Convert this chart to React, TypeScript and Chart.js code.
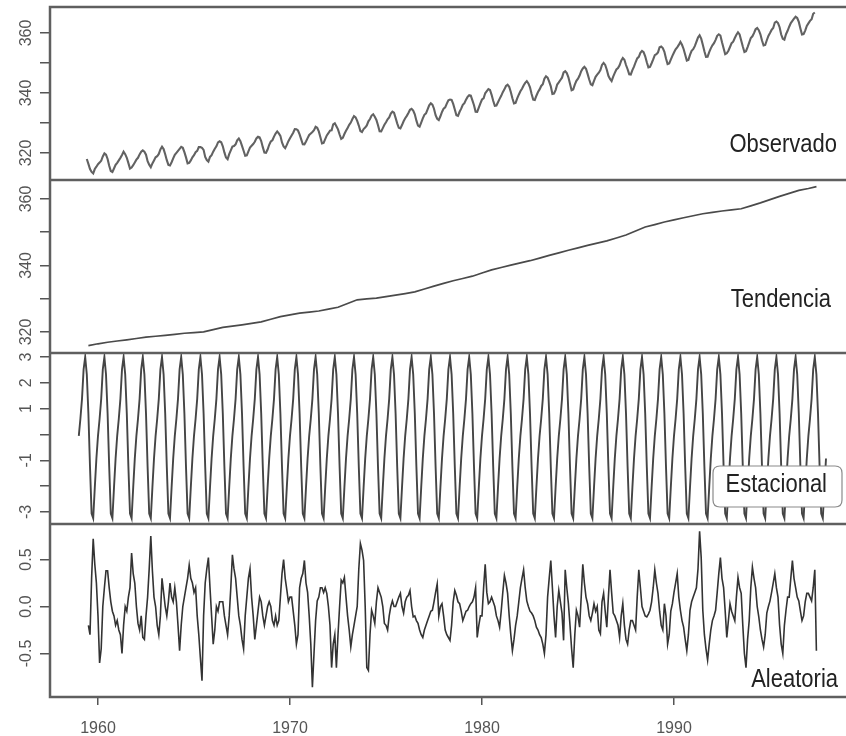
import React, { useEffect, useRef } from "react";
import { Chart, registerables } from "chart.js";

Chart.register(...registerables);

// ---------- data ----------
const xTickYears = [1960, 1970, 1980, 1990];

// Observado: monthly, Jun 1959 .. May 1997
const observedStart = 1959 + 5 / 12;
const observed = [
  318.0, 316.39, 314.65, 313.68, 313.18, 314.66, 315.43,
  316.27, 316.81, 317.42, 318.87, 319.87, 319.43, 318.01, 315.74, 314.0, 313.68, 314.84, 316.03,
  316.73, 317.54, 318.38, 319.31, 320.42, 319.61, 318.42, 316.63, 314.83, 315.16, 315.94, 316.85,
  317.78, 318.4, 319.53, 320.42, 320.85, 320.45, 319.45, 317.25, 316.11, 315.27, 316.53, 317.53,
  318.58, 318.92, 319.7, 321.22, 322.08, 321.31, 319.58, 317.61, 316.05, 315.83, 316.91, 318.2,
  319.41, 320.07, 320.74, 321.4, 322.06, 321.73, 320.27, 318.54, 316.54, 316.71, 317.53, 318.55,
  319.27, 320.28, 320.73, 321.97, 322.0, 321.71, 321.05, 318.71, 317.66, 317.14, 318.7, 319.25,
  320.46, 321.43, 322.23, 323.54, 323.91, 323.59, 322.24, 320.2, 318.48, 317.94, 319.63, 320.87,
  322.17, 322.34, 322.88, 324.25, 324.83, 323.93, 322.38, 320.76, 319.1, 319.24, 320.56, 321.8,
  322.4, 322.99, 323.73, 324.86, 325.4, 325.2, 323.98, 321.95, 320.18, 320.09, 321.16, 322.74,
  323.83, 324.26, 325.47, 326.5, 327.21, 326.54, 325.72, 323.5, 322.22, 321.62, 322.69, 323.95,
  324.89, 325.82, 326.77, 327.97, 327.91, 327.5, 326.18, 324.53, 322.93, 322.9, 323.85, 324.96,
  326.01, 326.51, 327.01, 327.62, 328.76, 328.4, 327.2, 325.27, 323.2, 323.4, 324.63, 325.85,
  326.6, 327.47, 327.58, 329.56, 329.9, 328.92, 327.88, 326.16, 324.68, 325.04, 326.34, 327.39,
  328.37, 329.4, 330.14, 331.33, 332.31, 331.9, 330.7, 329.15, 327.35, 327.02, 327.99, 328.48,
  329.18, 330.55, 331.32, 332.48, 332.92, 332.08, 331.01, 329.23, 327.27, 327.21, 328.29, 329.41,
  330.23, 331.25, 331.87, 333.14, 333.8, 333.43, 331.73, 329.9, 328.4, 328.17, 329.32, 330.59,
  331.58, 332.39, 333.33, 334.41, 334.71, 334.17, 332.89, 330.77, 329.14, 328.78, 330.14, 331.52,
  332.75, 333.24, 334.53, 335.9, 336.57, 336.1, 334.76, 332.59, 331.42, 330.98, 332.24, 333.68,
  334.8, 335.22, 336.47, 337.59, 337.84, 337.72, 336.37, 334.51, 332.6, 332.38, 333.75, 334.78,
  336.05, 336.59, 337.79, 338.71, 339.3, 339.12, 337.56, 335.92, 333.75, 333.7, 335.12, 336.56,
  337.84, 338.19, 339.91, 340.6, 341.29, 341.0, 339.39, 337.43, 335.72, 335.84, 336.93, 338.04,
  339.06, 340.3, 341.21, 342.33, 342.74, 342.08, 340.32, 338.26, 336.52, 336.68, 338.19, 339.44,
  340.57, 341.44, 342.53, 343.39, 343.96, 343.18, 341.88, 339.65, 337.81, 337.69, 339.09, 340.32,
  341.2, 342.35, 342.93, 344.77, 345.58, 345.14, 343.81, 342.21, 339.69, 339.82, 340.98, 342.82,
  343.52, 344.33, 345.11, 346.88, 347.25, 346.62, 345.22, 343.11, 340.9, 341.18, 342.8, 344.04,
  344.79, 345.82, 347.25, 348.17, 348.74, 348.07, 346.38, 344.51, 342.92, 342.62, 344.06, 345.38,
  346.11, 346.78, 347.68, 349.37, 350.03, 349.37, 347.76, 345.73, 344.68, 343.99, 345.48, 346.72,
  347.84, 348.29, 349.23, 350.8, 351.66, 351.07, 349.33, 347.92, 346.27, 346.18, 347.64, 348.78,
  350.25, 351.54, 352.05, 353.41, 354.04, 353.62, 352.22, 350.27, 348.55, 348.72, 349.91, 351.18,
  352.6, 352.92, 353.53, 355.26, 355.52, 354.97, 353.75, 351.52, 349.64, 349.83, 351.14, 352.37,
  353.5, 354.55, 355.23, 356.04, 357.0, 356.07, 354.67, 352.76, 350.82, 351.04, 352.69, 354.07,
  354.59, 355.63, 357.03, 358.48, 359.22, 358.12, 356.06, 353.92, 352.05, 352.11, 353.64, 354.89,
  355.88, 356.63, 357.72, 359.07, 359.58, 359.17, 356.94, 354.92, 352.94, 353.23, 354.09, 355.33,
  356.63, 357.1, 358.32, 359.41, 360.23, 359.55, 357.53, 355.48, 353.67, 353.95, 355.3, 356.78,
  358.34, 358.89, 359.95, 361.25, 361.67, 360.94, 359.55, 357.49, 355.84, 356.0, 357.59, 359.05,
  359.98, 361.03, 361.66, 363.48, 363.82, 363.3, 361.94, 359.5, 358.11, 357.8, 359.61, 360.74,
  362.09, 363.29, 364.06, 364.76, 365.45, 365.01, 363.7, 361.54, 359.51, 359.65, 360.8, 362.38,
  363.23, 364.06, 364.61, 366.4, 366.84,
];

// Tendencia: semi-annual readings
const trendYears = [
  1959.5, 1960, 1960.5, 1961, 1961.5, 1962, 1962.5, 1963, 1963.5, 1964, 1964.5,
  1965, 1965.5, 1966, 1966.5, 1967, 1967.5, 1968, 1968.5, 1969, 1969.5,
  1970, 1970.5, 1971, 1971.5, 1972, 1972.5, 1973, 1973.5, 1974, 1974.5,
  1975, 1975.5, 1976, 1976.5, 1977, 1977.5, 1978, 1978.5, 1979, 1979.5,
  1980, 1980.5, 1981, 1981.5, 1982, 1982.5, 1983, 1983.5, 1984, 1984.5,
  1985, 1985.5, 1986, 1986.5, 1987, 1987.5, 1988, 1988.5, 1989, 1989.5,
  1990, 1990.5, 1991, 1991.5, 1992, 1992.5, 1993, 1993.5, 1994, 1994.5,
  1995, 1995.5, 1996, 1996.5, 1997, 1997.42,
];
const trend = [
  315.9, 316.45, 316.91, 317.28, 317.64, 318.05, 318.45, 318.72, 318.99, 319.3, 319.62,
  319.83, 320.04, 320.71, 321.38, 321.77, 322.16, 322.6, 323.04, 323.83, 324.62,
  325.15, 325.68, 326.0, 326.32, 326.88, 327.45, 328.56, 329.68, 329.93, 330.18,
  330.63, 331.08, 331.56, 332.05, 332.91, 333.78, 334.6, 335.41, 336.1, 336.78,
  337.73, 338.68, 339.39, 340.1, 340.77, 341.44, 342.23, 343.03, 343.8, 344.58,
  345.31, 346.04, 346.71, 347.39, 348.27, 349.16, 350.36, 351.56, 352.31, 353.07,
  353.71, 354.35, 354.96, 355.57, 355.97, 356.38, 356.72, 357.07, 357.94, 358.82,
  359.81, 360.8, 361.69, 362.59, 363.15, 363.71,
];

// Estacional: the 12-month seasonal figure, repeated for every year Jan 1959 .. Dec 1997
const seasonalStart = 1959;
const seasonalFigure = [-0.05, 0.61, 1.38, 2.52, 3.0, 2.33, 0.81, -1.25, -3.06, -3.24, -2.05, -0.93];
const seasonalYearCount = 39;

// Aleatoria: monthly, Jul 1959 .. Jun 1997
const randomStart = 1959.5;
const random = [
  -0.2, -0.3, 0.3, 0.72, 0.45, 0.25, -0.1, -0.6, -0.45, 0.0, 0.2, 0.38,
  0.38, 0.2, 0.05, -0.05, -0.1, -0.2, -0.15, -0.25, -0.3, -0.5, -0.2, 0.0,
  -0.05, 0.1, 0.2, 0.57, 0.35, 0.25, 0.0, -0.18, -0.25, -0.1, -0.33, -0.35,
  -0.1, 0.1, 0.4, 0.75, 0.38, 0.1, 0.0, -0.2, -0.3, -0.1, 0.3, 0.15,
  0.0, -0.1, 0.05, 0.25, 0.1, 0.05, 0.2, 0.05, -0.2, -0.47, -0.2, 0.0,
  0.1, 0.2, 0.3, 0.44, 0.3, 0.25, 0.15, 0.2, -0.1, -0.3, -0.55, -0.79,
  -0.1, 0.25, 0.4, 0.52, 0.2, -0.1, -0.4, -0.25, 0.0, -0.05, 0.05, 0.05,
  0.05, -0.1, -0.2, -0.3, -0.1, 0.2, 0.55, 0.4, 0.3, 0.1, -0.1, -0.2,
  -0.35, -0.45, -0.1, 0.1, 0.3, 0.4, 0.1, -0.1, -0.35, -0.2, -0.05, 0.1,
  0.05, -0.1, -0.2, -0.1, 0.0, 0.05, 0.0, -0.15, -0.2, -0.1, -0.2, -0.15,
  0.1, 0.35, 0.5, 0.3, 0.18, 0.05, 0.1, 0.1, -0.05, -0.2, -0.4, -0.3,
  0.2, 0.3, 0.35, 0.49, 0.25, 0.15, -0.1, -0.4, -0.86, -0.5, -0.15, 0.06,
  0.1, 0.2, 0.2, 0.15, 0.2, 0.14, 0.0, -0.2, -0.65, -0.4, -0.3, -0.65,
  -0.3, 0.0, 0.28, 0.25, 0.31, 0.1, -0.1, -0.25, -0.43, -0.3, -0.2, -0.1,
  0.0, 0.4, 0.67, 0.6, 0.49, 0.0, -0.65, -0.68, -0.3, -0.04, -0.1, -0.18,
  0.05, 0.2, 0.15, 0.1, 0.0, -0.18, -0.2, -0.25, -0.1, 0.0, 0.06, 0.0,
  0.0, 0.05, 0.1, 0.14, 0.0, -0.07, 0.05, 0.1, 0.12, 0.17, 0.0, -0.11,
  -0.1, -0.15, -0.18, -0.25, -0.3, -0.33, -0.25, -0.2, -0.15, -0.1, -0.05, -0.04,
  0.05, 0.15, 0.24, -0.1, 0.0, 0.03, -0.1, -0.25, -0.3, -0.33, -0.36, -0.2,
  0.05, 0.17, 0.12, 0.05, 0.03, -0.05, -0.15, -0.1, -0.05, -0.04, 0.0, 0.03,
  0.05, 0.1, 0.2, -0.33, -0.2, -0.1, -0.1, 0.2, 0.45, 0.15, 0.03, 0.05,
  0.1, 0.05, 0.0, -0.1, -0.15, -0.22, -0.05, 0.15, 0.33, 0.25, 0.14, -0.1,
  -0.3, -0.47, -0.35, -0.2, -0.1, 0.05, 0.2, 0.3, 0.39, 0.2, 0.06, 0.0,
  -0.05, -0.07, -0.1, -0.15, -0.22, -0.25, -0.3, -0.33, -0.4, -0.5, -0.3, 0.1,
  0.3, 0.49, 0.2, -0.1, -0.33, 0.0, 0.17, 0.05, -0.07, -0.36, 0.39, 0.2,
  0.03, -0.2, -0.45, -0.65, -0.3, -0.04, -0.1, -0.22, 0.1, 0.45, 0.25, 0.1,
  0.03, -0.1, -0.15, -0.07, 0.03, -0.05, 0.0, -0.25, -0.29, 0.05, 0.14, -0.05,
  -0.22, 0.1, 0.39, 0.15, -0.07, -0.1, -0.15, -0.2, -0.33, -0.1, 0.03, -0.2,
  -0.35, -0.4, -0.25, -0.15, -0.15, -0.2, -0.25, 0.1, 0.39, 0.2, 0.0, -0.05,
  -0.1, -0.11, -0.08, -0.04, 0.05, 0.2, 0.39, 0.25, 0.14, -0.05, -0.2, -0.25,
  0.03, -0.1, -0.4, -0.3, -0.05, 0.03, 0.15, 0.25, 0.35, 0.1, -0.04, -0.15,
  -0.22, -0.35, -0.47, -0.3, -0.04, 0.05, 0.1, 0.15, 0.2, 0.4, 0.8, 0.52,
  -0.04, -0.3, -0.45, -0.57, -0.4, -0.25, -0.15, -0.1, -0.04, 0.15, 0.35, 0.52,
  0.3, 0.2, -0.05, -0.33, -0.15, 0.03, -0.05, -0.1, -0.15, 0.1, 0.31, 0.2,
  0.14, -0.2, -0.5, -0.65, -0.35, -0.15, 0.2, 0.42, 0.3, 0.2, 0.0, -0.11,
  -0.25, -0.35, -0.43, -0.3, -0.07, 0.0, 0.06, 0.15, 0.25, 0.35, 0.2, 0.1,
  -0.2, -0.4, -0.5, -0.2, -0.04, 0.1, 0.1, 0.3, 0.49, 0.3, 0.2, 0.1,
  0.06, -0.05, -0.15, -0.1, 0.05, 0.14, 0.14, 0.1, 0.06, 0.2, 0.39, -0.47,
];

// axis ticks
const levelTicks = [320, 330, 340, 350, 360];
const levelTickLabels = [320, 340, 360];
const seasonalTicks = [-3, -2, -1, 0, 1, 2, 3];
const seasonalTickLabels = [3, 2, 1, -1, -3];
const randomTicks = [-0.5, 0, 0.5];
const randomTickLabels = [0.5, 0, -0.5];

// ---------- helpers ----------
const monthly = (start: number, vals: number[]) => vals.map((v, i) => ({ x: start + i / 12, y: v }));
const paired = (xs: number[], ys: number[]) => xs.map((x, i) => ({ x, y: ys[i] }));
const seasonalSeries = () => {
  const vals: number[] = [];
  for (let k = 0; k < seasonalYearCount; k++) vals.push(...seasonalFigure);
  return monthly(seasonalStart, vals);
};

const CANVAS_W = 850;
const PLOT_LEFT = 50;
const X_MIN = 1957.5;
const X_MAX = 1957.5 + (CANVAS_W - PLOT_LEFT) / 19.2;
const FONT = '"Liberation Sans", Arial, Helvetica, sans-serif';
const AXIS_COLOR = "#555";

type PanelCfg = {
  id: string;
  top: number;
  height: number;
  padTop: number;
  yMin: number;
  yMax: number;
  ticks: number[];
  labels: number[];
  fmt: (v: number) => string;
  title: string;
  titleRight: number;
  titleBaseline: number;
  box?: { x: number; y: number; w: number; h: number };
  points: { x: number; y: number }[];
  color: string;
  lineWidth: number;
  showX: boolean;
};

const PANELS: PanelCfg[] = [
  {
    id: "obs", top: 0, height: 180, padTop: 7, yMin: 311, yMax: 368.67,
    ticks: levelTicks, labels: levelTickLabels, fmt: (v) => String(v),
    title: "Observado", titleRight: 837, titleBaseline: 152,
    points: monthly(observedStart, observed), color: "#626262", lineWidth: 2.1, showX: false,
  },
  {
    id: "trend", top: 180, height: 173, padTop: 0, yMin: 313.68, yMax: 365.71,
    ticks: levelTicks, labels: levelTickLabels, fmt: (v) => String(v),
    title: "Tendencia", titleRight: 831, titleBaseline: 307,
    points: paired(trendYears, trend), color: "#4a4a4a", lineWidth: 1.7, showX: false,
  },
  {
    id: "seas", top: 353, height: 171, padTop: 0, yMin: -3.465, yMax: 3.155,
    ticks: seasonalTicks, labels: seasonalTickLabels, fmt: (v) => String(v),
    title: "Estacional", titleRight: 827, titleBaseline: 492,
    box: { x: 713, y: 466, w: 129, h: 41 },
    points: seasonalSeries(), color: "#454545", lineWidth: 1.9, showX: false,
  },
  {
    id: "rand", top: 524, height: 212, padTop: 0, yMin: -0.963, yMax: 0.878,
    ticks: randomTicks, labels: randomTickLabels, fmt: (v) => v.toFixed(1),
    title: "Aleatoria", titleRight: 838, titleBaseline: 687,
    points: monthly(randomStart, random), color: "#333333", lineWidth: 1.6, showX: true,
  },
];

const panelPlugin = {
  id: "panel",
  afterDraw(chart: any, _args: any, o: any) {
    const ctx: CanvasRenderingContext2D = chart.ctx;
    const ca = chart.chartArea;
    const p: PanelCfg = o.cfg;
    const off = p.top;

    // label box
    if (p.box) {
      const { x, w } = p.box;
      const y = p.box.y - off;
      const h = p.box.h;
      const r = 7;
      ctx.save();
      ctx.beginPath();
      ctx.moveTo(x + r, y);
      ctx.lineTo(x + w - r, y);
      ctx.quadraticCurveTo(x + w, y, x + w, y + r);
      ctx.lineTo(x + w, y + h - r);
      ctx.quadraticCurveTo(x + w, y + h, x + w - r, y + h);
      ctx.lineTo(x + r, y + h);
      ctx.quadraticCurveTo(x, y + h, x, y + h - r);
      ctx.lineTo(x, y + r);
      ctx.quadraticCurveTo(x, y, x + r, y);
      ctx.closePath();
      ctx.fillStyle = "#ffffff";
      ctx.fill();
      ctx.strokeStyle = "#8a8a8a";
      ctx.lineWidth = 1.2;
      ctx.stroke();
      ctx.restore();
    }

    // panel title
    ctx.save();
    ctx.fillStyle = "#222";
    ctx.font = `22px ${FONT}`;
    ctx.textAlign = "right";
    ctx.textBaseline = "alphabetic";
    ctx.translate(p.titleRight, p.titleBaseline - off);
    ctx.scale(1, 1.15);
    ctx.fillText(p.title, 0, 0);
    ctx.restore();

    // panel frame
    ctx.save();
    ctx.strokeStyle = "#5f5f5f";
    ctx.lineWidth = 2.5;
    ctx.strokeRect(ca.left, ca.top, ca.right - ca.left, ca.bottom - ca.top);
    ctx.restore();

    // rotated y tick labels
    const ys = chart.scales.y;
    ctx.save();
    ctx.fillStyle = AXIS_COLOR;
    ctx.font = `16px ${FONT}`;
    ctx.textAlign = "center";
    ctx.textBaseline = "middle";
    for (const v of p.labels) {
      const py = ys.getPixelForValue(v);
      ctx.save();
      ctx.translate(27, py);
      ctx.rotate(-Math.PI / 2);
      ctx.fillText(p.fmt(v), 0, 0);
      ctx.restore();
    }
    ctx.restore();
  },
};

function makeConfig(p: PanelCfg): any {
  return {
    type: "line",
    data: {
      datasets: [
        {
          data: p.points,
          borderColor: p.color,
          borderWidth: p.lineWidth,
          pointRadius: 0,
          tension: 0,
          fill: false,
        },
      ],
    },
    options: {
      animation: false,
      responsive: false,
      devicePixelRatio: 1,
      events: [],
      layout: { padding: { top: p.padTop, left: 0, right: 0, bottom: 0 } },
      plugins: {
        legend: { display: false },
        tooltip: { enabled: false },
        panel: { cfg: p },
      },
      scales: {
        x: {
          type: "linear",
          min: X_MIN,
          max: X_MAX,
          display: p.showX,
          afterBuildTicks: (s: any) => {
            s.ticks = xTickYears.map((v) => ({ value: v }));
          },
          afterFit: (s: any) => {
            if (p.showX) s.height = 39;
          },
          ticks: {
            autoSkip: false,
            maxRotation: 0,
            minRotation: 0,
            padding: 14,
            color: AXIS_COLOR,
            font: { family: FONT, size: 16 },
            callback: (v: any) => String(v),
          },
          grid: {
            drawOnChartArea: false,
            drawTicks: true,
            tickLength: 8,
            color: AXIS_COLOR,
            lineWidth: 1.5,
          },
          border: { display: false },
        },
        y: {
          type: "linear",
          min: p.yMin,
          max: p.yMax,
          afterBuildTicks: (s: any) => {
            s.ticks = p.ticks.map((v) => ({ value: v }));
          },
          afterFit: (s: any) => {
            s.width = PLOT_LEFT;
          },
          ticks: { display: false },
          grid: {
            drawOnChartArea: false,
            drawTicks: true,
            tickLength: 10,
            color: AXIS_COLOR,
            lineWidth: 1.5,
          },
          border: { display: false },
        },
      },
    },
    plugins: [panelPlugin],
  };
}

export default function App() {
  const refs = useRef<(HTMLCanvasElement | null)[]>([]);

  useEffect(() => {
    const charts = PANELS.map((p, i) => new Chart(refs.current[i] as HTMLCanvasElement, makeConfig(p)));
    return () => {
      charts.forEach((c) => c.destroy());
    };
  }, []);

  return (
    <div
      style={{
        position: "absolute",
        left: 0,
        top: 0,
        width: 846,
        height: 736,
        overflow: "hidden",
        background: "#ffffff",
      }}
    >
      {PANELS.map((p, i) => (
        <canvas
          key={p.id}
          ref={(el) => {
            refs.current[i] = el;
          }}
          width={CANVAS_W}
          height={p.height}
          style={{ position: "absolute", left: 0, top: p.top, width: CANVAS_W, height: p.height, display: "block" }}
        />
      ))}
    </div>
  );
}
